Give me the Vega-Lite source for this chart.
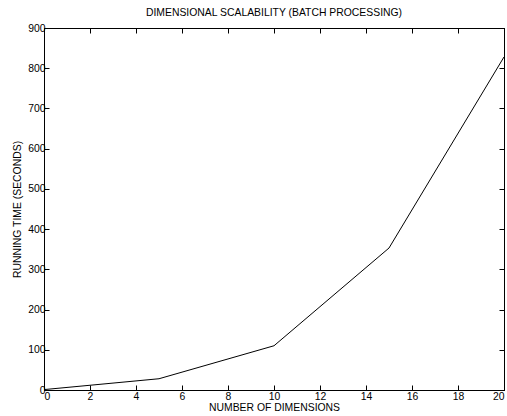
{
  "$schema": "https://vega.github.io/schema/vega-lite/v6.json",
  "autosize": {"type": "none"},
  "padding": {"left": 44, "top": 28, "right": 3, "bottom": 26},
  "width": 460,
  "height": 362,
  "background": "white",
  "title": {"text": "DIMENSIONAL SCALABILITY (BATCH PROCESSING)", "font": "Liberation Sans", "fontSize": 10.4, "fontWeight": "normal", "color": "#000", "offset": 5},
  "config": {
    "view": {"stroke": "black", "strokeWidth": 1},
    "axis": {"labelFont": "Liberation Sans", "titleFont": "Liberation Sans", "labelFontSize": 10.4, "titleFontSize": 10.4, "titleFontWeight": "normal", "labelColor": "#000", "titleColor": "#000", "domainColor": "black", "tickColor": "black", "grid": false, "tickSize": -5, "labelPadding": 4}
  },
  "data": {"values": [
    {"d": 0, "t": 1},
    {"d": 5, "t": 28},
    {"d": 10, "t": 110},
    {"d": 15, "t": 353},
    {"d": 20, "t": 828}
  ]},
  "layer": [
    {
      "mark": {"type": "line", "color": "black", "strokeWidth": 1},
      "encoding": {
        "x": {"field": "d", "type": "quantitative", "scale": {"domain": [0, 20], "nice": false}, "axis": {"title": "NUMBER OF DIMENSIONS", "values": [0,2,4,6,8,10,12,14,16,18,20], "labelPadding": 6, "titlePadding": 1}},
        "y": {"field": "t", "type": "quantitative", "scale": {"domain": [0, 900], "nice": false}, "axis": {"title": "RUNNING TIME (SECONDS)", "values": [0,100,200,300,400,500,600,700,800,900], "titlePadding": 5}}
      }
    },
    {
      "mark": {"type": "line", "opacity": 0},
      "encoding": {
        "x": {"field": "d", "type": "quantitative", "axis": {"orient": "top", "title": null, "labels": false, "values": [0,2,4,6,8,10,12,14,16,18,20]}},
        "y": {"field": "t", "type": "quantitative", "axis": {"orient": "right", "title": null, "labels": false, "values": [0,100,200,300,400,500,600,700,800,900]}}
      }
    }
  ],
  "resolve": {"axis": {"x": "independent", "y": "independent"}}
}
